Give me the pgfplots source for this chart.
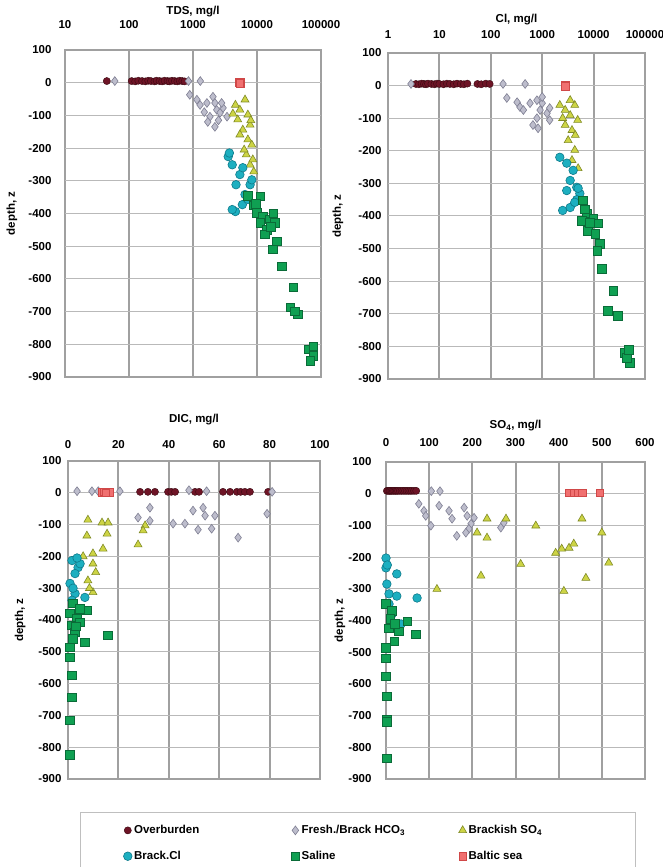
\documentclass[border=0pt]{standalone}
\usepackage{fontspec}
\setmainfont{Liberation Sans}
\usepackage{pgfplots}
\pgfplotsset{compat=1.18}

\definecolor{obf}{HTML}{6E1426}
\definecolor{obd}{HTML}{3A0A12}
\definecolor{frf}{HTML}{BDBDCC}
\definecolor{frd}{HTML}{7E7E92}
\definecolor{bsf}{HTML}{CDD445}
\definecolor{bsd}{HTML}{7F8A25}
\definecolor{bcf}{HTML}{1DAFC0}
\definecolor{bcd}{HTML}{0E7A8A}
\definecolor{saf}{HTML}{0FA052}
\definecolor{sad}{HTML}{0A6B38}
\definecolor{blf}{HTML}{F07070}
\definecolor{bld}{HTML}{D04848}
\definecolor{gridc}{HTML}{A0A0A0}

\newcommand{\lbl}{\fontsize{11.5}{13}\selectfont\bfseries}

\pgfplotsset{
  lgd/.style={legend image code/.code={\draw[mark repeat=2,mark phase=2] plot coordinates {(0pt,0pt)(4pt,0pt)(8pt,0pt)};}},
  ob/.style={only marks,mark=*,mark size=3.6pt,mark options={draw=obd,fill=obf,line width=0.4pt},lgd},
  fr/.style={only marks,mark=diamond*,mark size=4.4pt,mark options={draw=frd,fill=frf,line width=0.6pt},lgd},
  bs/.style={only marks,mark=triangle*,mark size=4.6pt,mark options={draw=bsd,fill=bsf,line width=0.6pt},lgd},
  bc/.style={only marks,mark=*,mark size=4.3pt,mark options={draw=bcd,fill=bcf,line width=0.6pt},lgd},
  sa/.style={only marks,mark=square*,mark size=4.3pt,mark options={draw=sad,fill=saf,line width=0.6pt},lgd},
  bl/.style={only marks,mark=square*,mark size=3.8pt,mark options={draw=bld,fill=blf,line width=0.6pt},lgd},
  panel/.style={
    scale only axis, anchor=south west,
    ymin=-900, ymax=100,
    ytick={-900,100},
    yticklabels={-900,100},
    extra y ticks={-800,-700,-600,-500,-400,-300,-200,-100,0},
    extra y tick labels={-800,-700,-600,-500,-400,-300,-200,-100,0},
    extra y tick style={y grid style={gray!55,line width=1pt}},
    xmajorgrids=true, ymajorgrids=true,
    x grid style={gridc,line width=2pt},
    y grid style={gray!55,line width=1pt},
    axis line style={gridc,line width=2pt},
    tick style={draw=none},
    xticklabel pos=upper,
    tick label style={font=\lbl},
    label style={font=\lbl},
    ylabel={depth, z},
  },
}

\begin{document}
\begin{tikzpicture}
\useasboundingbox (0pt,0pt) rectangle (663pt,867pt);

% a) TDS
\begin{axis}[panel, at={(65pt,490pt)}, width=256pt, height=327pt,
  xmode=log, xmin=10, xmax=100000,
  xtick={10,100,1000,10000,100000}, xticklabels={10,100,1000,10000,100000},
  minor x tick num=0,
  xticklabel style={yshift=18pt}, yticklabel style={xshift=-10pt},
  xlabel={TDS, mg/l}, xlabel style={at={(axis description cs:0.5,1)},anchor=center,yshift=38pt},
  ylabel style={at={(axis description cs:-0.207,0.5)},anchor=center}]
\addplot[ob] coordinates {(45,5) (110,5) (125,4) (140,6) (160,5) (180,4) (200,6) (220,5) (250,4) (270,6) (300,5) (330,4) (360,6) (400,5) (430,4) (470,6) (520,5) (570,4) (620,6) (680,5) (740,4)};
\addplot[fr] coordinates {(60,5) (850,5) (1300,5) (890,-37) (1150,-52) (1290,-68) (1650,-62) (2050,-43) (2200,-62) (2350,-83) (1840,-104) (1700,-120) (2200,-135) (2650,-92) (2950,-77) (3400,-104) (2800,-62) (1500,-90) (2500,-115)};
\addplot[bs] coordinates {(4600,-68) (5400,-83) (6500,-52) (7200,-98) (5000,-113) (7800,-129) (6000,-144) (7200,-174) (8300,-190) (6800,-220) (7800,-251) (8900,-272) (5400,-159) (6300,-205) (4200,-95) (8600,-235) (8000,-115)};
\addplot[bc] coordinates {(3550,-226) (4100,-251) (5400,-281) (4700,-312) (6500,-342) (7800,-312) (5900,-373) (4600,-394) (4100,-388) (7200,-357) (8300,-297) (6000,-260) (3700,-215)};
\addplot[sa] coordinates {(7200,-345) (8800,-375) (11200,-348) (10000,-397) (12300,-409) (15800,-418) (19000,-428) (11200,-428) (14200,-449) (13300,-464) (20500,-485) (17800,-510) (24500,-562) (36700,-626) (33000,-687) (43500,-708) (39000,-699) (63000,-815) (76000,-836) (68000,-851) (76000,-806) (9500,-370) (16500,-440) (18000,-400)};
\addplot[bl] coordinates {(5300,2) (5400,0) (5500,-2) (5450,1) (5350,-1)};
\node[font=\lbl] at (axis description cs:-0.19,0.028) {a)};
\end{axis}

% b) Cl
\begin{axis}[panel, at={(388pt,488pt)}, width=257pt, height=326pt,
  xmode=log, xmin=1, xmax=100000,
  xtick={1,10,100,1000,10000,100000}, xticklabels={1,10,100,1000,10000,100000},
  minor x tick num=0,
  xticklabel style={yshift=11pt}, yticklabel style={xshift=-3pt},
  xlabel={Cl, mg/l}, xlabel style={at={(axis description cs:0.5,1)},anchor=center,yshift=33pt},
  ylabel style={at={(axis description cs:-0.195,0.5)},anchor=center}]
\addplot[ob] coordinates {(3.5,5) (4,4) (4.5,6) (5,5) (5.5,4) (6,6) (7,5) (8,4) (9,6) (10,5) (12,4) (14,6) (16,5) (19,4) (22,6) (26,5) (30,4) (35,6) (55,5) (65,4) (80,6) (95,5)};
\addplot[fr] coordinates {(2.8,5) (173,5) (465,5) (205,-38) (325,-51) (370,-66) (580,-54) (790,-45) (1000,-54) (910,-75) (1240,-85) (790,-100) (660,-121) (830,-131) (1400,-106) (1000,-35) (430,-75) (1400,-69)};
\addplot[bs] coordinates {(2200,-60) (2800,-75) (3500,-91) (4300,-60) (2800,-121) (3800,-137) (3200,-168) (4300,-198) (3800,-229) (5000,-254) (2500,-100) (4400,-152) (4900,-106) (3500,-45)};
\addplot[bc] coordinates {(2200,-220) (3000,-238) (4000,-260) (3500,-291) (4700,-312) (3000,-322) (5400,-331) (2500,-383) (3500,-374) (4700,-350) (4300,-358) (5000,-315)};
\addplot[sa] coordinates {(6200,-352) (7400,-392) (5900,-414) (9800,-408) (12200,-423) (7800,-445) (10700,-454) (13300,-485) (11700,-506) (14500,-562) (24000,-629) (19000,-691) (29800,-706) (40700,-820) (51000,-851) (44500,-835) (48000,-810) (8500,-420) (6800,-380)};
\addplot[bl] coordinates {(2750,0) (2800,2) (2850,-1) (2900,1) (2800,-2)};
\node[font=\lbl] at (axis description cs:-0.074,0.049) {b)};
\end{axis}

% c) DIC
\begin{axis}[panel, at={(68pt,88pt)}, width=252pt, height=318pt,
  xmin=0, xmax=100, xtick={0,20,40,60,80,100}, xticklabels={0,20,40,60,80,100},
  xticklabel style={yshift=9pt}, yticklabel style={xshift=-3pt},
  xlabel={DIC, mg/l}, xlabel style={at={(axis description cs:0.5,1)},anchor=center,yshift=41pt},
  ylabel style={at={(axis description cs:-0.19,0.5)},anchor=center},
  legend columns=3, legend cell align=left,
  legend style={at={(axis description cs:0.048,-0.104)}, anchor=north west,
    draw=gray!50, line width=0.8pt, inner xsep=43pt, inner ysep=11pt,
    font=\lbl, row sep=12pt}]
\addplot[ob] coordinates {(28.6,3) (31.7,3) (34.5,3) (39.7,3) (41,3) (42.5,3) (50.4,3) (52,3) (61.5,3) (64.3,3) (67,3) (68.5,3) (70.2,3) (72.2,3) (79.4,3)};
\addlegendentry{\makebox[155pt][l]{Overburden}}
\addplot[fr] coordinates {(3.6,5) (9.5,5) (12,5) (20.6,5) (48,8) (55,5) (81,3) (32.5,-47) (27.8,-78) (32.5,-88) (41.7,-97) (46.4,-97) (49.6,-56) (53.6,-47) (54.4,-72) (58.3,-72) (51.6,-116) (57,-113) (67.5,-141) (79,-66)};
\addlegendentry{\makebox[155pt][l]{Fresh./Brack HCO\textsubscript{3}}}
\addplot[bs] coordinates {(7.9,-85) (13.5,-94) (15.9,-94) (7.5,-135) (15.5,-129) (30.6,-103) (29.8,-119) (27.8,-163) (13.9,-176) (9.9,-191) (9.9,-223) (7.9,-276) (9.9,-313) (6,-200) (11,-250) (8.5,-300)};
\addlegendentry{\makebox[122pt][l]{Brackish SO\textsubscript{4}}}
\addplot[bc] coordinates {(1.6,-213) (4,-235) (2.8,-254) (0.8,-285) (2.8,-317) (6.7,-329) (4.8,-223) (1.6,-338) (3.6,-205) (2,-300)};
\addlegendentry{\makebox[155pt][l]{Brack.Cl}}
\addplot[sa] coordinates {(2,-348) (0.8,-379) (3.6,-395) (1.6,-417) (4.8,-407) (2.8,-439) (6.7,-470) (15.9,-448) (0.8,-486) (0.8,-517) (1.6,-574) (1.6,-643) (0.8,-715) (0.8,-824) (7.5,-370) (4.8,-364) (3,-420) (2,-460)};
\addlegendentry{\makebox[155pt][l]{Saline}}
\addplot[bl] coordinates {(13.5,2) (14.5,3) (15.5,1) (16.5,2) (15,0)};
\addlegendentry{\makebox[122pt][l]{Baltic sea}}
\node[font=\lbl] at (axis description cs:-0.2,0.013) {c)};
\end{axis}

% d) SO4
\begin{axis}[panel, at={(386pt,88pt)}, width=259pt, height=317pt,
  xmin=0, xmax=600, xtick={0,100,200,300,400,500,600}, xticklabels={0,100,200,300,400,500,600},
  xticklabel style={yshift=12pt}, yticklabel style={xshift=-11pt},
  xlabel={SO\textsubscript{4}, mg/l}, xlabel style={at={(axis description cs:0.5,1)},anchor=center,yshift=36pt},
  ylabel style={at={(axis description cs:-0.178,0.5)},anchor=center}]
\addplot[ob] coordinates {(2,9) (5,9) (8,9) (10,9) (13,9) (16,9) (19,9) (22,9) (25,9) (28,9) (32,9) (36,9) (40,9) (44,9) (48,9) (52,9) (56,9) (60,9) (65,9) (70,9)};
\addplot[fr] coordinates {(105,8) (125,8) (76,-32) (88,-54) (92,-70) (104,-101) (123,-38) (146,-54) (153,-79) (164,-133) (181,-44) (188,-70) (197,-95) (192,-111) (185,-123) (266,-107) (273,-92) (204,-76)};
\addplot[bs] coordinates {(234,-79) (278,-79) (211,-123) (234,-139) (347,-101) (454,-79) (500,-123) (393,-187) (407,-174) (424,-171) (435,-158) (312,-222) (516,-218) (220,-259) (463,-266) (118,-301) (412,-307)};
\addplot[bc] coordinates {(0,-203) (0,-234) (25,-253) (2,-285) (7,-316) (25,-323) (72,-329) (7,-348) (14,-380) (35,-411) (3,-225)};
\addplot[sa] coordinates {(0,-348) (14,-370) (49,-402) (30,-434) (69,-443) (7,-424) (19,-465) (0,-487) (0,-519) (0,-576) (2,-639) (2,-712) (2,-720) (2,-835) (10,-395) (20,-410)};
\addplot[bl] coordinates {(425,3) (435,3) (445,3) (455,3) (495,3)};
\node[font=\lbl] at (axis description cs:-0.17,0.019) {d)};
\end{axis}
\end{tikzpicture}
\end{document}
